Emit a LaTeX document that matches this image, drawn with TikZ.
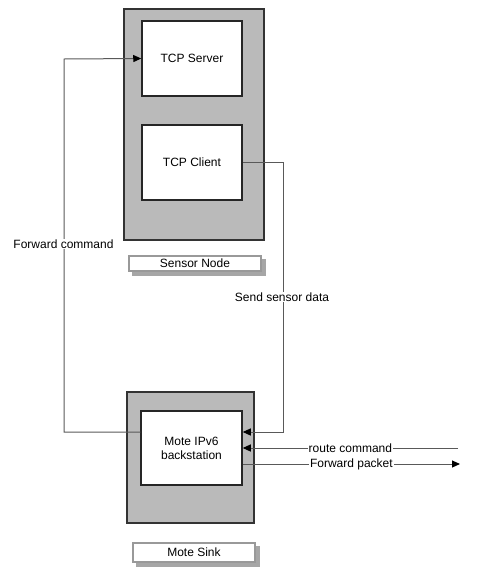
\documentclass[tikz,border=0pt]{standalone}
\usepackage{fontspec}
\setmainfont{Liberation Sans}
\usepackage{tikz}
\usetikzlibrary{arrows.meta}
\tikzset{outer/.style={draw=black!80,line width=2pt,fill=black!27,inner sep=0pt}}
\tikzset{inner/.style={draw=black!85,line width=1.5pt,fill=white,inner sep=0pt}}
\tikzset{tag/.style={draw=black!40,line width=2pt,fill=white,inner sep=0pt}}
\tikzset{tagshadow/.style={draw=none,fill=black!35,inner sep=0pt}}
\tikzset{link/.style={draw=black!65,line width=1pt}}
\tikzset{tip/.style={-{Triangle[length=8pt,width=7pt,black]}}}

\begin{document}
\begin{tikzpicture}[x=1pt,y=-1pt,font=\fontsize{12}{14}\selectfont]
        \useasboundingbox (0,0) rectangle (485,582);
        \node[outer,minimum width=140pt,minimum height=231pt] (sensor) at (194,124.5) {};
        \node[inner,minimum width=100pt,minimum height=75pt] (server) at (192,58.5) {TCP Server};
        \node[inner,minimum width=100pt,minimum height=75pt] (client) at (192,162.5) {TCP Client};
        \node[tagshadow,minimum width=134pt,minimum height=17pt] (sensorshadow) at (198.5,267) {};
        \node[tag,minimum width=132pt,minimum height=15pt] (sensortag) at (195,263.5) {Sensor Node};
        \node[outer,minimum width=127pt,minimum height=131pt] (sink) at (190.5,457.5) {};
        \node[inner,minimum width=101pt,minimum height=74pt,align=center] (mote) at (191.5,448) {Mote IPv6\\backstation};
        \node[tagshadow,minimum width=124pt,minimum height=21pt] (sinkshadow) at (197.5,556) {};
        \node[tag,minimum width=122pt,minimum height=19pt] (sinktag) at (194,552.5) {Mote Sink};
        \coordinate (routein) at (458,448);
        \coordinate (fwdout) at (460,464);
        \draw[link,tip] ([yshift=16pt]mote.west) -| (64,59) -- (server.west);
        \node[fill=white,inner sep=1pt] (fwdcmd) at (63.5,244) {Forward command};
        \draw[link,tip] (client.east) -| (283,432) -- ([yshift=16pt]mote.east);
        \node[fill=white,inner sep=1pt] (senddata) at (282,297) {Send sensor data};
        \draw[link,tip] (routein) -- (mote.east) node[pos=0.5,fill=white,inner sep=1pt] {route command};
        \draw[link,tip] ([yshift=-16pt]mote.east) -- (fwdout) node[pos=0.5,fill=white,inner sep=1pt] {Forward packet};
    \end{tikzpicture}
\end{document}
